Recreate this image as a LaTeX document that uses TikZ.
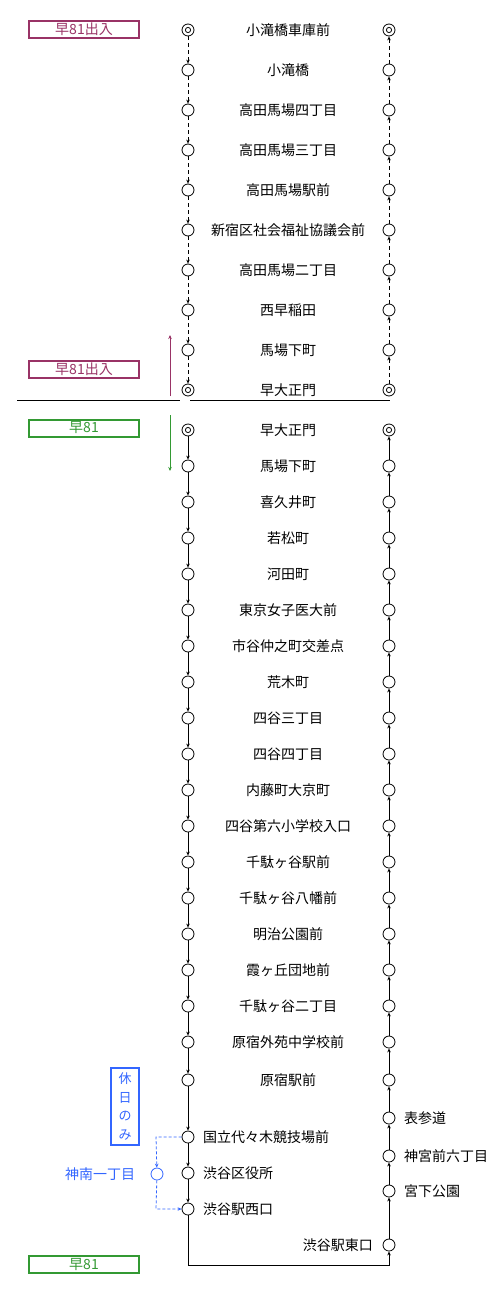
\documentclass[tikz,border=0pt]{standalone}
\usepackage{fontspec}
\newfontfamily\jp{Noto Sans CJK JP}
\usetikzlibrary{arrows.meta}
\definecolor{purp}{HTML}{993366}
\definecolor{grn}{HTML}{339933}
\definecolor{blu}{HTML}{3366FF}
\tikzset{
 stop/.style={circle,draw,minimum size=12pt,inner sep=0pt,line width=0.8pt},
 term/.style={stop,path picture={\draw[line width=0.8pt] (path picture bounding box.center) circle (2.6pt);}},
 lbl/.style={font=\jp\fontsize{14}{14}\selectfont, inner sep=0pt},
 tip/.style={-{Stealth[length=4pt,width=3.5pt]}},
 dsh/.style={tip,line width=0.8pt,dash pattern=on 4pt off 3pt},
 sld/.style={tip,line width=0.8pt},
 routebox/.style={draw,line width=2pt,minimum width=110pt,minimum height=17pt,inner sep=0pt,font=\jp\fontsize{14}{14}\selectfont},
}
\begin{document}
\begin{tikzpicture}[x=1pt,y=-1pt]
\useasboundingbox (0,0) rectangle (500,1293);
% ---- upper section (dashed) ----
\foreach \y/\t [count=\i] in {30/小滝橋車庫前,70/小滝橋,110/高田馬場四丁目,150/高田馬場三丁目,190/高田馬場駅前,230/新宿区社会福祉協議会前,270/高田馬場二丁目,310/西早稲田,350/馬場下町,390/早大正門}{
  \ifnum\i=1 \def\st{term}\else\ifnum\i=10 \def\st{term}\else\def\st{stop}\fi\fi
  \node[\st] (UL\i) at (188,\y) {};
  \node[\st] (UR\i) at (389,\y) {};
  \node[lbl] (UT\i) at (288,\y) {\t};
}
\foreach \i [evaluate=\i as \j using int(\i+1)] in {1,...,9}{
  \draw[dsh] (UL\i) -- (UL\j);
  \draw[dsh] (UR\j) -- (UR\i);
}
% ---- separator ----
\coordinate (s1) at (17,400); \coordinate (s2) at (180,400);
\coordinate (s3) at (190,400); \coordinate (s4) at (390,400);
\draw[line width=0.8pt] (s1) -- (s2) (s3) -- (s4);
% ---- lower section ----
\foreach \y/\t [count=\i] in {430/早大正門,466/馬場下町,502/喜久井町,538/若松町,574/河田町,610/東京女子医大前,646/市谷仲之町交差点,682/荒木町,718/四谷三丁目,754/四谷四丁目,790/内藤町大京町,826/四谷第六小学校入口,862/千駄ヶ谷駅前,898/千駄ヶ谷八幡前,934/明治公園前,970/霞ヶ丘団地前,1006/千駄ヶ谷二丁目,1042/原宿外苑中学校前,1080/原宿駅前}{
  \ifnum\i=1 \def\st{term}\else\def\st{stop}\fi
  \node[\st] (LL\i) at (188,\y) {};
  \node[\st] (LR\i) at (389,\y) {};
  \node[lbl] (LT\i) at (288,\y) {\t};
}
\foreach \i [evaluate=\i as \j using int(\i+1)] in {1,...,18}{
  \draw[sld] (LL\i) -- (LL\j);
  \draw[sld] (LR\j) -- (LR\i);
}
% left branch to Shibuya west
\node[stop] (K1) at (188,1137) {};
\node[stop] (K2) at (188,1173) {};
\node[stop] (K3) at (188,1209) {};
\node[lbl,anchor=west] (KT1) at (203,1137) {国立代々木競技場前};
\node[lbl,anchor=west] (KT2) at (203,1173) {渋谷区役所};
\node[lbl,anchor=west] (KT3) at (203,1209) {渋谷駅西口};
\draw[sld] (LL19) -- (K1);
\draw[sld] (K1) -- (K2);
\draw[sld] (K2) -- (K3);
% right branch
\node[stop] (E4) at (389,1245) {};
\node[stop] (E3) at (389,1191) {};
\node[stop] (E2) at (389,1156) {};
\node[stop] (E1) at (389,1118) {};
\node[lbl,anchor=east] (ET4) at (373,1245) {渋谷駅東口};
\node[lbl,anchor=west] (ET3) at (404,1191) {宮下公園};
\node[lbl,anchor=west] (ET2) at (404,1156) {神宮前六丁目};
\node[lbl,anchor=west] (ET1) at (404,1118) {表参道};
\coordinate (b1) at (188,1265); \coordinate (b2) at (389,1265);
\draw[sld] (K3) -- (b1) -- (b2) -- (E4);
\draw[sld] (E4) -- (E3);
\draw[sld] (E3) -- (E2);
\draw[sld] (E2) -- (E1);
\draw[sld] (E1) -- (LR19);
% ---- holiday detour ----
\node[stop,draw=blu] (J) at (157,1174) {};
\node[lbl,text=blu] (JT) at (100,1174) {神南一丁目};
\coordinate (j1) at (156,1137); \coordinate (j2) at (156,1209);
\draw[dsh,draw=blu,dash pattern=on 3pt off 2pt] (K1) -- (j1) -- (J);
\draw[dsh,draw=blu,dash pattern=on 3pt off 2pt] (J) -- (j2) -- (K3);
\node[draw=blu,line width=2pt,minimum width=28pt,minimum height=77pt,inner sep=0pt,text=blu,align=center,font=\jp\fontsize{13}{18.5}\selectfont] (HB) at (125,1106.5) {休\\日\\の\\み};
% ---- route boxes ----
\node[routebox,draw=purp,text=purp] (B1) at (84,29.5) {早81出入};
\node[routebox,draw=purp,text=purp] (B2) at (84,369.5) {早81出入};
\node[routebox,draw=grn,text=grn] (B3) at (84,428) {早81};
\node[routebox,draw=grn,text=grn] (B4) at (84,1264) {早81};
% direction arrows
\coordinate (p1) at (170,396); \coordinate (p2) at (170,335);
\draw[sld,draw=purp,fill=purp] (p1) -- (p2);
\coordinate (g1) at (170,415); \coordinate (g2) at (170,471);
\draw[sld,draw=grn,fill=grn] (g1) -- (g2);
\end{tikzpicture}
\end{document}
